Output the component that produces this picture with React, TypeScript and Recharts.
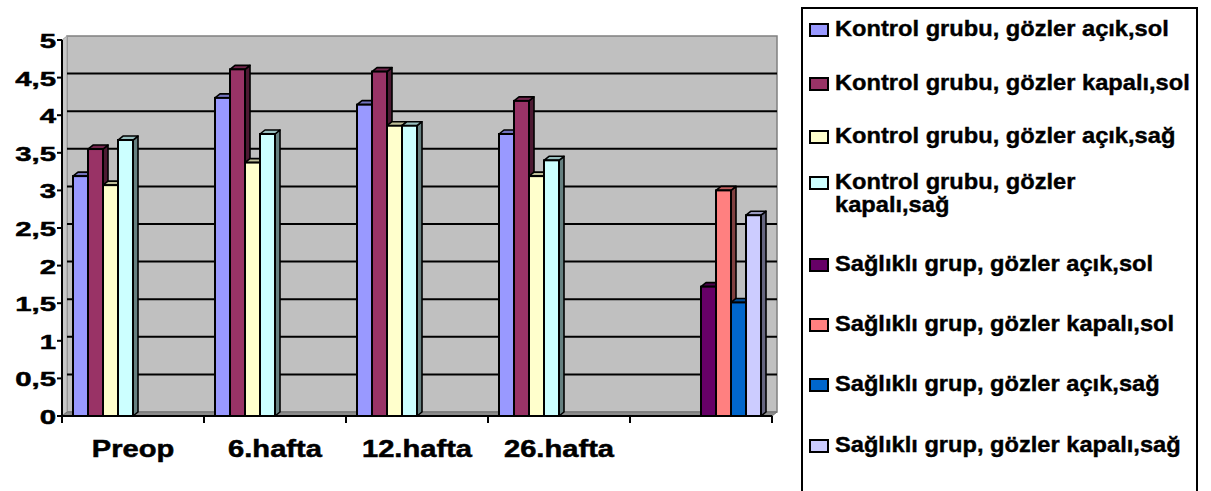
import React from 'react';
import { BarChart, Bar, XAxis, YAxis, ReferenceArea } from 'recharts';

const categories = ['Preop', '6.hafta', '12.hafta', '26.hafta', ''];
const seriesNames = [
  'Kontrol grubu, gözler açık,sol',
  'Kontrol grubu, gözler kapalı,sol',
  'Kontrol grubu, gözler açık,sağ',
  'Kontrol grubu, gözler kapalı,sağ',
  'Sağlıklı grup, gözler açık,sol',
  'Sağlıklı grup, gözler kapalı,sol',
  'Sağlıklı grup, gözler açık,sağ',
  'Sağlıklı grup, gözler kapalı,sağ',
];
const legendLabels = [
  'Kontrol grubu, gözler açık,sol',
  'Kontrol grubu, gözler kapalı,sol',
  'Kontrol grubu, gözler açık,sağ',
  'Kontrol grubu, gözler\nkapalı,sağ',
  'Sağlıklı grup, gözler açık,sol',
  'Sağlıklı grup, gözler kapalı,sol',
  'Sağlıklı grup, gözler açık,sağ',
  'Sağlıklı grup, gözler kapalı,sağ',
];
const kontrolAcikSol = [3.19, 4.23, 4.14, 3.75, null];
const kontrolKapaliSol = [3.55, 4.61, 4.58, 4.19, null];
const kontrolAcikSag = [3.07, 3.37, 3.86, 3.19, null];
const kontrolKapaliSag = [3.67, 3.75, 3.86, 3.4, null];
const saglikliAcikSol = [null, null, null, null, 1.72];
const saglikliKapaliSol = [null, null, null, null, 3.0];
const saglikliAcikSag = [null, null, null, null, 1.51];
const saglikliKapaliSag = [null, null, null, null, 2.67];
const seriesValues = [
  kontrolAcikSol, kontrolKapaliSol, kontrolAcikSag, kontrolKapaliSag,
  saglikliAcikSol, saglikliKapaliSol, saglikliAcikSag, saglikliKapaliSag,
];
const yTicks = [0, 0.5, 1, 1.5, 2, 2.5, 3, 3.5, 4, 4.5, 5];
const gridValues = [0.5, 1, 1.5, 2, 2.5, 3, 3.5, 4, 4.5];

const colors = ['#9999FF', '#993366', '#FFFFCC', '#CCFFFF', '#660066', '#FF8080', '#0066CC', '#CCCCFF'];
const keys = ['s1', 's2', 's3', 's4', 's5', 's6', 's7', 's8'];

const data = categories.map((c, i) => {
  const row: any = { name: c };
  keys.forEach((k, j) => { row[k] = seriesValues[j][i]; });
  return row;
});

const FONT = '"Liberation Sans", Arial, sans-serif';
const DX = 5;
const DY = 4;

function shade(hex: string, f: number) {
  const n = parseInt(hex.slice(1), 16);
  const r = Math.round(((n >> 16) & 255) * f);
  const g = Math.round(((n >> 8) & 255) * f);
  const b = Math.round((n & 255) * f);
  return `rgb(${r},${g},${b})`;
}

const Bar3D = (props: any) => {
  const { x, y, width, height, color } = props;
  if (x == null || y == null || !height || height <= 0) return null;
  const d = DX;
  const dy = DY;
  const top = `M${x},${y} L${x + d},${y - dy} L${x + width + d},${y - dy} L${x + width},${y} Z`;
  const side = `M${x + width},${y} L${x + width + d},${y - dy} L${x + width + d},${y + height - dy} L${x + width},${y + height} Z`;
  return (
    <g>
      <path d={side} fill={shade(color, 0.5)} stroke="#000" strokeWidth={1.6} strokeLinejoin="round" />
      <path d={top} fill={shade(color, 0.75)} stroke="#000" strokeWidth={1.6} strokeLinejoin="round" />
      <rect x={x} y={y} width={width} height={height} fill={color} stroke="#000" strokeWidth={2} />
    </g>
  );
};

const Walls = (props: any) => {
  const { x, y, width, height } = props;
  if (x == null) return null;
  const left = `M${x},${y} L${x + DX},${y - DY} L${x + DX},${y + height - DY} L${x},${y + height} Z`;
  const floor = `M${x},${y + height} L${x + DX},${y + height - DY} L${x + width + DX},${y + height - DY} L${x + width},${y + height} Z`;
  return (
    <g>
      <rect x={x + DX} y={y - DY} width={width} height={height} fill="#C0C0C0" stroke="#808080" strokeWidth={1.5} />
      <path d={left} fill="#C8C8C8" stroke="#A0A0A0" strokeWidth={1} />
      <path d={floor} fill="#8C8C8C" stroke="#707070" strokeWidth={1} />
    </g>
  );
};

// Draws only the top edge of a value band, pushed back onto the wall.
const GridTop = (p: any) => {
  const { x, y, width } = p;
  if (x == null || y == null) return null;
  return <line x1={x + DX} y1={y - DY} x2={x + width + DX} y2={y - DY} stroke="#000" strokeWidth={2} />;
};

const fmt = (v: number) => String(v).replace('.', ',');

const YTick = (props: any) => {
  const { x, y, payload } = props;
  return (
    <text
      transform={`translate(${x},${y + 8}) scale(1.4,1)`}
      textAnchor="end"
      fontSize={21}
      fontWeight="bold"
      fontFamily={FONT}
      fill="#000"
      stroke="#000"
      strokeWidth={0.5}
    >
      {fmt(payload.value)}
    </text>
  );
};

const XTick = (props: any) => {
  const { x, payload, index, visibleTicksCount, width } = props;
  const half = payload && payload.offset ? payload.offset : width / visibleTicksCount / 2;
  const axisY = 416;
  return (
    <g>
      <line x1={x - half} y1={axisY} x2={x - half} y2={axisY + 7} stroke="#000" strokeWidth={2} />
      {index === visibleTicksCount - 1 && (
        <line x1={x + half} y1={axisY} x2={x + half} y2={axisY + 7} stroke="#000" strokeWidth={2} />
      )}
      <text
        transform={`translate(${x},${axisY + 41}) scale(1.24,1)`}
        textAnchor="middle"
        fontSize={23.5}
        fontWeight="bold"
        fontFamily={FONT}
        fill="#000"
        stroke="#000"
        strokeWidth={0.5}
      >
        {payload.value}
      </text>
    </g>
  );
};

const legendMargins = [9, 31, 30, 23, 36, 37, 37, 38];

const LegendBox = () => (
  <div
    style={{
      position: 'absolute',
      left: 801,
      top: 7,
      width: 397,
      height: 500,
      border: '2px solid #000',
      boxSizing: 'border-box',
      background: '#fff',
      fontFamily: FONT,
    }}
  >
    {legendLabels.map((label, i) => (
      <div key={seriesNames[i]} style={{ display: 'flex', alignItems: 'flex-start', marginTop: legendMargins[i] }}>
        <div
          style={{
            width: 20,
            height: 14,
            marginLeft: 6,
            marginTop: 5,
            border: '2px solid #000',
            boxSizing: 'border-box',
            background: colors[i],
            flex: 'none',
          }}
        />
        <div
          style={{
            marginLeft: 6,
            fontSize: 21.5,
            lineHeight: '23px',
            fontWeight: 'bold',
            whiteSpace: 'pre',
            transform: 'scaleX(1.1)',
            transformOrigin: 'left center',
            color: '#000',
            WebkitTextStroke: '0.4px #000',
          }}
        >
          {label}
        </div>
      </div>
    ))}
  </div>
);

export default function App() {
  return (
    <div style={{ position: 'absolute', left: 0, top: 0, width: 1211, height: 491, background: '#fff', overflow: 'hidden' }}>
      <BarChart
        width={1211}
        height={491}
        data={data}
        margin={{ top: 40, right: 439, bottom: 0, left: 0 }}
        barCategoryGap={11}
        barGap={0}
        style={{ fontFamily: FONT }}
      >
        <ReferenceArea y1={0} y2={5} shape={<Walls />} fill="none" stroke="none" />
        {gridValues.map((v) => (
          <ReferenceArea key={v} y1={0} y2={v} shape={<GridTop />} fill="none" stroke="none" />
        ))}
        <YAxis
          type="number"
          domain={[0, 5]}
          ticks={yTicks}
          interval={0}
          width={62}
          tickSize={5}
          tickMargin={1}
          axisLine={{ stroke: '#000', strokeWidth: 2 }}
          tickLine={{ stroke: '#000', strokeWidth: 2 }}
          tick={<YTick />}
        />
        <XAxis
          dataKey="name"
          height={75}
          interval={0}
          tickLine={false}
          axisLine={{ stroke: '#000', strokeWidth: 2 }}
          tick={<XTick />}
        />
        {keys.map((k, i) => (
          <Bar
            key={k}
            dataKey={k}
            name={seriesNames[i]}
            fill={colors[i]}
            isAnimationActive={false}
            shape={(p: any) => <Bar3D {...p} color={colors[i]} />}
          />
        ))}
      </BarChart>
      <LegendBox />
    </div>
  );
}
